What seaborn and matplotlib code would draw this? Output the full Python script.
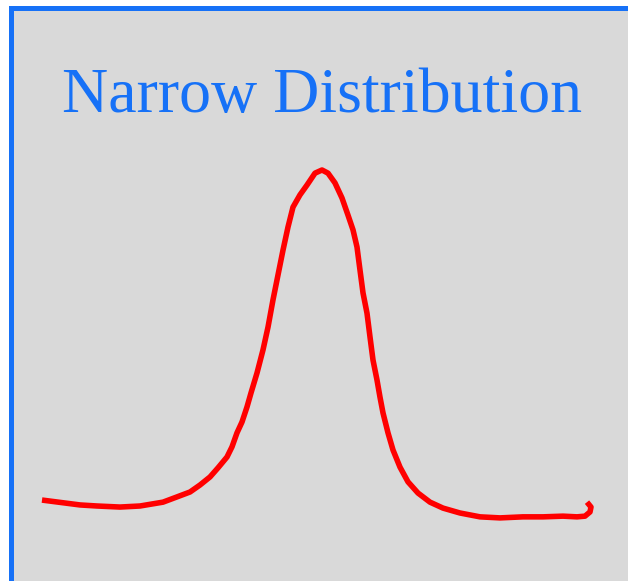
import numpy as np
import pandas as pd
import matplotlib
matplotlib.use("Agg")
import matplotlib.pyplot as plt
import seaborn as sns

# Hand-sketched density curve: position vs. relative density
x_vals = [-2.78, -2.40, -2.23, -2.00, -1.80, -1.57, -1.43, -1.30, -1.20, -1.10,
          -1.02, -0.93, -0.88, -0.83, -0.78, -0.73, -0.69, -0.63, -0.57, -0.52,
          -0.47, -0.42, -0.37, -0.32, -0.27, -0.20, -0.13, -0.05, 0.02, 0.08,
          0.15, 0.22, 0.28, 0.33, 0.37, 0.40, 0.43, 0.47, 0.50, 0.53,
          0.57, 0.60, 0.63, 0.68, 0.73, 0.80, 0.88, 0.98, 1.10, 1.23,
          1.40, 1.60, 1.80, 2.03, 2.23, 2.43, 2.57, 2.65, 2.70, 2.71,
          2.67]
density = [0.057, 0.043, 0.040, 0.037, 0.040, 0.051, 0.066, 0.080, 0.100, 0.123,
           0.149, 0.180, 0.209, 0.249, 0.280, 0.323, 0.363, 0.420, 0.486, 0.551,
           0.629, 0.700, 0.771, 0.837, 0.894, 0.929, 0.957, 0.991, 1.000, 0.991,
           0.963, 0.920, 0.871, 0.829, 0.780, 0.714, 0.649, 0.591, 0.523, 0.457,
           0.400, 0.351, 0.306, 0.249, 0.200, 0.151, 0.109, 0.077, 0.051, 0.034,
           0.020, 0.009, 0.006, 0.009, 0.009, 0.011, 0.009, 0.011, 0.023, 0.037,
           0.051]
title = "Narrow Distribution"

BLUE = "#1671F7"
GRAY = "#D9D9D9"
RED = "#FF0000"

sns.set_style("white", {"axes.facecolor": GRAY})

fig = plt.figure(figsize=(6.28, 5.81), dpi=100)
fig.patch.set_facecolor("white")

# panel extends past the right and bottom edges of the canvas
W, H = 628.0, 581.0
left_px, top_px, right_px, bottom_px = 10.5, 7.5, 640.0, 600.0
ax = fig.add_axes([left_px / W, 1 - bottom_px / H,
                   (right_px - left_px) / W, (bottom_px - top_px) / H])

df = pd.DataFrame({"x": x_vals, "density": density})
sns.lineplot(data=df, x="x", y="density", sort=False, estimator=None,
             color=RED, linewidth=4.0, ax=ax)
for line in ax.get_lines():
    line.set_solid_capstyle("butt")
    line.set_solid_joinstyle("round")

ax.set_xlim((left_px - 320) / 100, (right_px - 320) / 100)
ax.set_ylim((520 - bottom_px) / 350, (520 - top_px) / 350)
ax.set_xticks([])
ax.set_yticks([])
ax.set_xlabel("")
ax.set_ylabel("")
for sp in ax.spines.values():
    sp.set_visible(True)
    sp.set_color(BLUE)
    sp.set_linewidth(3.6)

fig.text(322 / W, 1 - 112 / H, title, ha="center", va="baseline",
         color=BLUE, fontsize=46, family=["Liberation Serif", "DejaVu Serif"])

fig.savefig("out.png", dpi=100, facecolor=fig.get_facecolor())
